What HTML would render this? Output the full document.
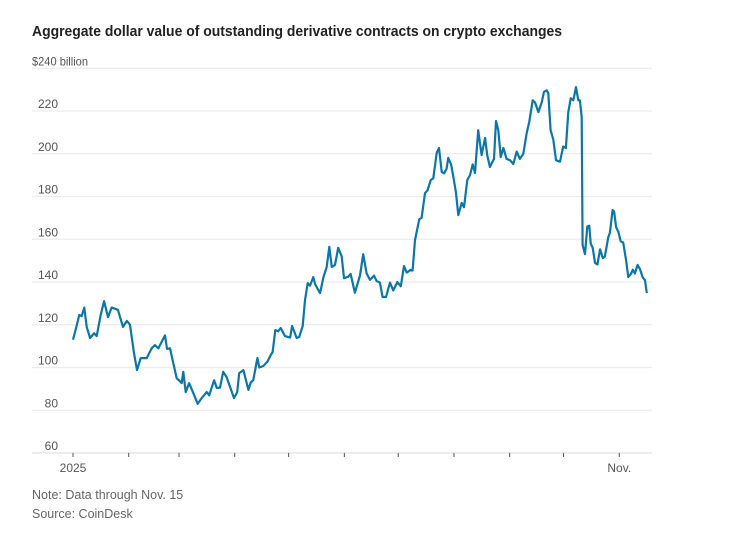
<!DOCTYPE html>
<html><head><meta charset="utf-8"><style>
body{margin:0;background:#fff;font-family:"Liberation Sans",sans-serif;}
</style></head><body>
<svg width="737" height="533" viewBox="0 0 737 533" xmlns="http://www.w3.org/2000/svg">
<text x="32" y="36" font-size="15" font-weight="bold" fill="#222" textLength="530" lengthAdjust="spacingAndGlyphs">Aggregate dollar value of outstanding derivative contracts on crypto exchanges</text>
<g id="grid"></g>
<g id="yl"></g>
<g id="xa"></g>
<path id="line" fill="none" stroke="#0b77a8" stroke-width="2.2" stroke-linejoin="round"/>
<text x="32" y="499" font-size="12.5" fill="#666">Note: Data through Nov. 15</text>
<text x="32" y="518" font-size="12.5" fill="#666">Source: CoinDesk</text>
</svg>
<script>
const yTicks=[60,80,100,120,140,160,180,200,220,240];
const monthDays=[0,31,59,90,120,151,181,212,243,273,304];
const monthLabels=["2025","","","","","","","","","","Nov."];
const days=[0,1.7,3.5,4.8,6.3,7.6,9.5,11.7,13.2,15.4,17.3,19.5,21.5,25,27.8,30,31.7,33.9,35.6,37.7,41,43.8,45.6,47.5,51.2,52.3,54,55.8,57.7,60.5,61.4,62.7,64.6,66.2,69.4,71.6,74.4,75.8,78.5,80,81.8,83.6,85.5,89.6,91.4,92.5,94.8,97.6,98.9,100.3,102.6,103.7,105.9,108.1,110,111.1,112.6,114.2,115.6,118,120.8,121.9,124.5,125.9,127.8,129.1,130.6,131.9,133.7,134.7,136,137.5,139.3,141.2,142.6,144,145.8,147.6,149.5,150.8,153.2,154.5,156.9,159.7,161.5,163.4,165.3,167.5,169,170.8,172.3,174.2,176.4,178.2,180.5,182.4,184.2,185.7,187.9,189,190.3,192.7,194,195.9,197.2,199.1,200.5,202.4,203.7,205.2,206.5,207.9,208.8,210.4,211.6,213.1,214.4,216.3,217.6,219.4,220.9,222.4,223.7,225.5,227.4,229.3,230.5,232,234.3,235.4,236.7,238,239.5,241.3,243.2,245,246.9,248.7,250.6,252.5,253.9,255.8,257.1,259,260.8,262.1,263.6,264.5,265.8,267.3,268.8,271,272.8,274.3,275.6,277,278.4,279.9,281.2,282.1,283.1,283.6,284.9,286.2,287.3,288.1,289.2,290.5,291.8,293.3,294.8,296,297.9,298.8,300.3,301.1,302.2,303.5,304.8,306.2,307.7,309,310.4,311.5,312.7,314.2,315.5,317,318.3,319.3];
const values=[113,118.5,124.6,124,128,119,113.8,116,114.7,124.6,131,123.6,128,127,119,121.8,120,107,98.8,104.4,104.4,109,110.5,109,115,108.7,109,102,95,92.7,98,88.5,92.7,89.5,83,85.7,88.5,87,94,90.4,90.6,98,95.5,85.7,88.5,97.4,98.8,89.5,93,94,104.4,100,100.7,102.6,105.8,107.2,117.5,117,118.5,114.7,114,119.4,113.8,114.3,119.4,131.5,139.5,138.3,142.3,139,137,134.8,142,147,156.4,147,148,156,152,141.8,142.5,143.8,135,143,153,144,141,143,140.4,139.7,133,133,139.7,136,140,138,147.5,144.4,145.7,145.4,159.6,169.4,170,181.6,182.8,187.7,188.5,200.4,202.7,191.5,190.8,193,198,195,189.6,182,171.3,177,175,187.7,190,195,191,211,199.4,207.4,199.4,193.8,197.6,215.3,211,198.5,202.7,197.6,197,195.2,201,197.6,200,209.7,215,225,224,219.5,224,229,229.7,228.3,211,206.6,197,196.3,203.4,202.7,219.5,226,225,231.2,225,225,217,157.3,153,166,166.3,158,156,149,148.2,155.3,151.2,152,161,163,173.7,173,165.7,163.4,159,158.5,150.7,142.3,143.7,145.7,144,148,146,142.3,140.8,134.8];
const NS="http://www.w3.org/2000/svg";
const xS=d=>73+d*1.797;
const yS=v=>453-(v-60)*2.1375;
const grid=document.getElementById('grid'),yl=document.getElementById('yl'),xa=document.getElementById('xa');
yTicks.forEach(t=>{
  const l=document.createElementNS(NS,'line');
  l.setAttribute('x1',32);l.setAttribute('x2',652);l.setAttribute('y1',yS(t));l.setAttribute('y2',yS(t));
  l.setAttribute('stroke',t===60?'#e2e2e2':'#ececec');l.setAttribute('stroke-width',1.3);
  
  
  grid.appendChild(l);
  const tx=document.createElementNS(NS,'text');
  tx.setAttribute('x',t===240?32:58);tx.setAttribute('y',yS(t)-3);
  tx.setAttribute('font-size','12');tx.setAttribute('fill','#555');
  if(t!==240)tx.setAttribute('text-anchor','end');
  else {tx.setAttribute('textLength','56');tx.setAttribute('lengthAdjust','spacingAndGlyphs');}
  tx.textContent=t===240?'$240 billion':String(t);
  
  
  yl.appendChild(tx);
});
monthDays.forEach((d,i)=>{
  const l=document.createElementNS(NS,'line');
  l.setAttribute('x1',xS(d));l.setAttribute('x2',xS(d));l.setAttribute('y1',453);l.setAttribute('y2',457);
  l.setAttribute('stroke','#555');l.setAttribute('stroke-width',1);
  
  
  xa.appendChild(l);
  if(monthLabels[i]){
    const tx=document.createElementNS(NS,'text');
    tx.setAttribute('x',xS(d));tx.setAttribute('y',472);tx.setAttribute('text-anchor','middle');
    tx.setAttribute('font-size','12');tx.setAttribute('fill','#555');
    tx.textContent=monthLabels[i];
    
    
    xa.appendChild(tx);
  }
});
document.getElementById('line').setAttribute('d',days.map((d,i)=>(i?'L':'M')+xS(d).toFixed(1)+','+yS(values[i]).toFixed(1)).join(''));
</script>
</body></html>
